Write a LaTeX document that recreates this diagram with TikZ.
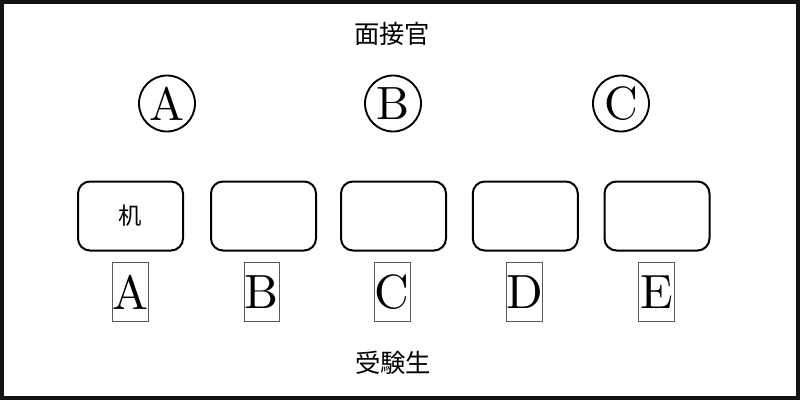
\documentclass[tikz,border=0pt]{standalone}
\usepackage{fontspec}
\newfontfamily\cjk{Noto Sans CJK JP}
\newfontfamily\lmten{lmroman10-regular}[Extension=.otf]
\begin{document}
\begin{tikzpicture}[x=0.75pt,y=-0.75pt,
  desk/.style={draw, line width=1.5pt, rounded corners=9pt, minimum width=78.75pt, minimum height=51.75pt, inner sep=0pt},
  seat/.style={draw=black!65, line width=0.6pt, minimum width=26.6pt, minimum height=44.25pt, inner sep=0pt, font=\lmten\fontsize{36pt}{36pt}\selectfont},
  interviewer/.style={draw, circle, line width=1.4pt, minimum size=42pt, inner sep=0pt, font=\lmten\fontsize{35pt}{35pt}\selectfont},
  label/.style={font=\cjk\fontsize{19pt}{19pt}\selectfont, inner sep=0pt}]
\useasboundingbox (0,0) rectangle (800,400);
\draw[line width=3pt, draw=black!92] (2,2) rectangle (798,398);
\node[label] (title) at (392,34) {面接官};
\node[interviewer] (iA) at (167,103.5) {A};
\node[interviewer] (iB) at (393,103.5) {B};
\node[interviewer] (iC) at (621,103.5) {C};
\node[desk, font=\cjk\fontsize{17.5pt}{17.5pt}\selectfont] (d1) at (130.5,216) {\raisebox{-3pt}{机}};
\node[desk] (d2) at (263.5,216) {};
\node[desk] (d3) at (393.5,216) {};
\node[desk] (d4) at (525.3,216) {};
\node[desk] (d5) at (657,216) {};
\node[seat] (sA) at (130.3,292) {A};
\node[seat] (sB) at (261.7,292) {B};
\node[seat] (sC) at (392.3,292) {C};
\node[seat] (sD) at (524.5,292) {D};
\node[seat] (sE) at (656.5,292) {E};
\node[label] (bottom) at (393,363) {受験生};
\end{tikzpicture}
\end{document}
